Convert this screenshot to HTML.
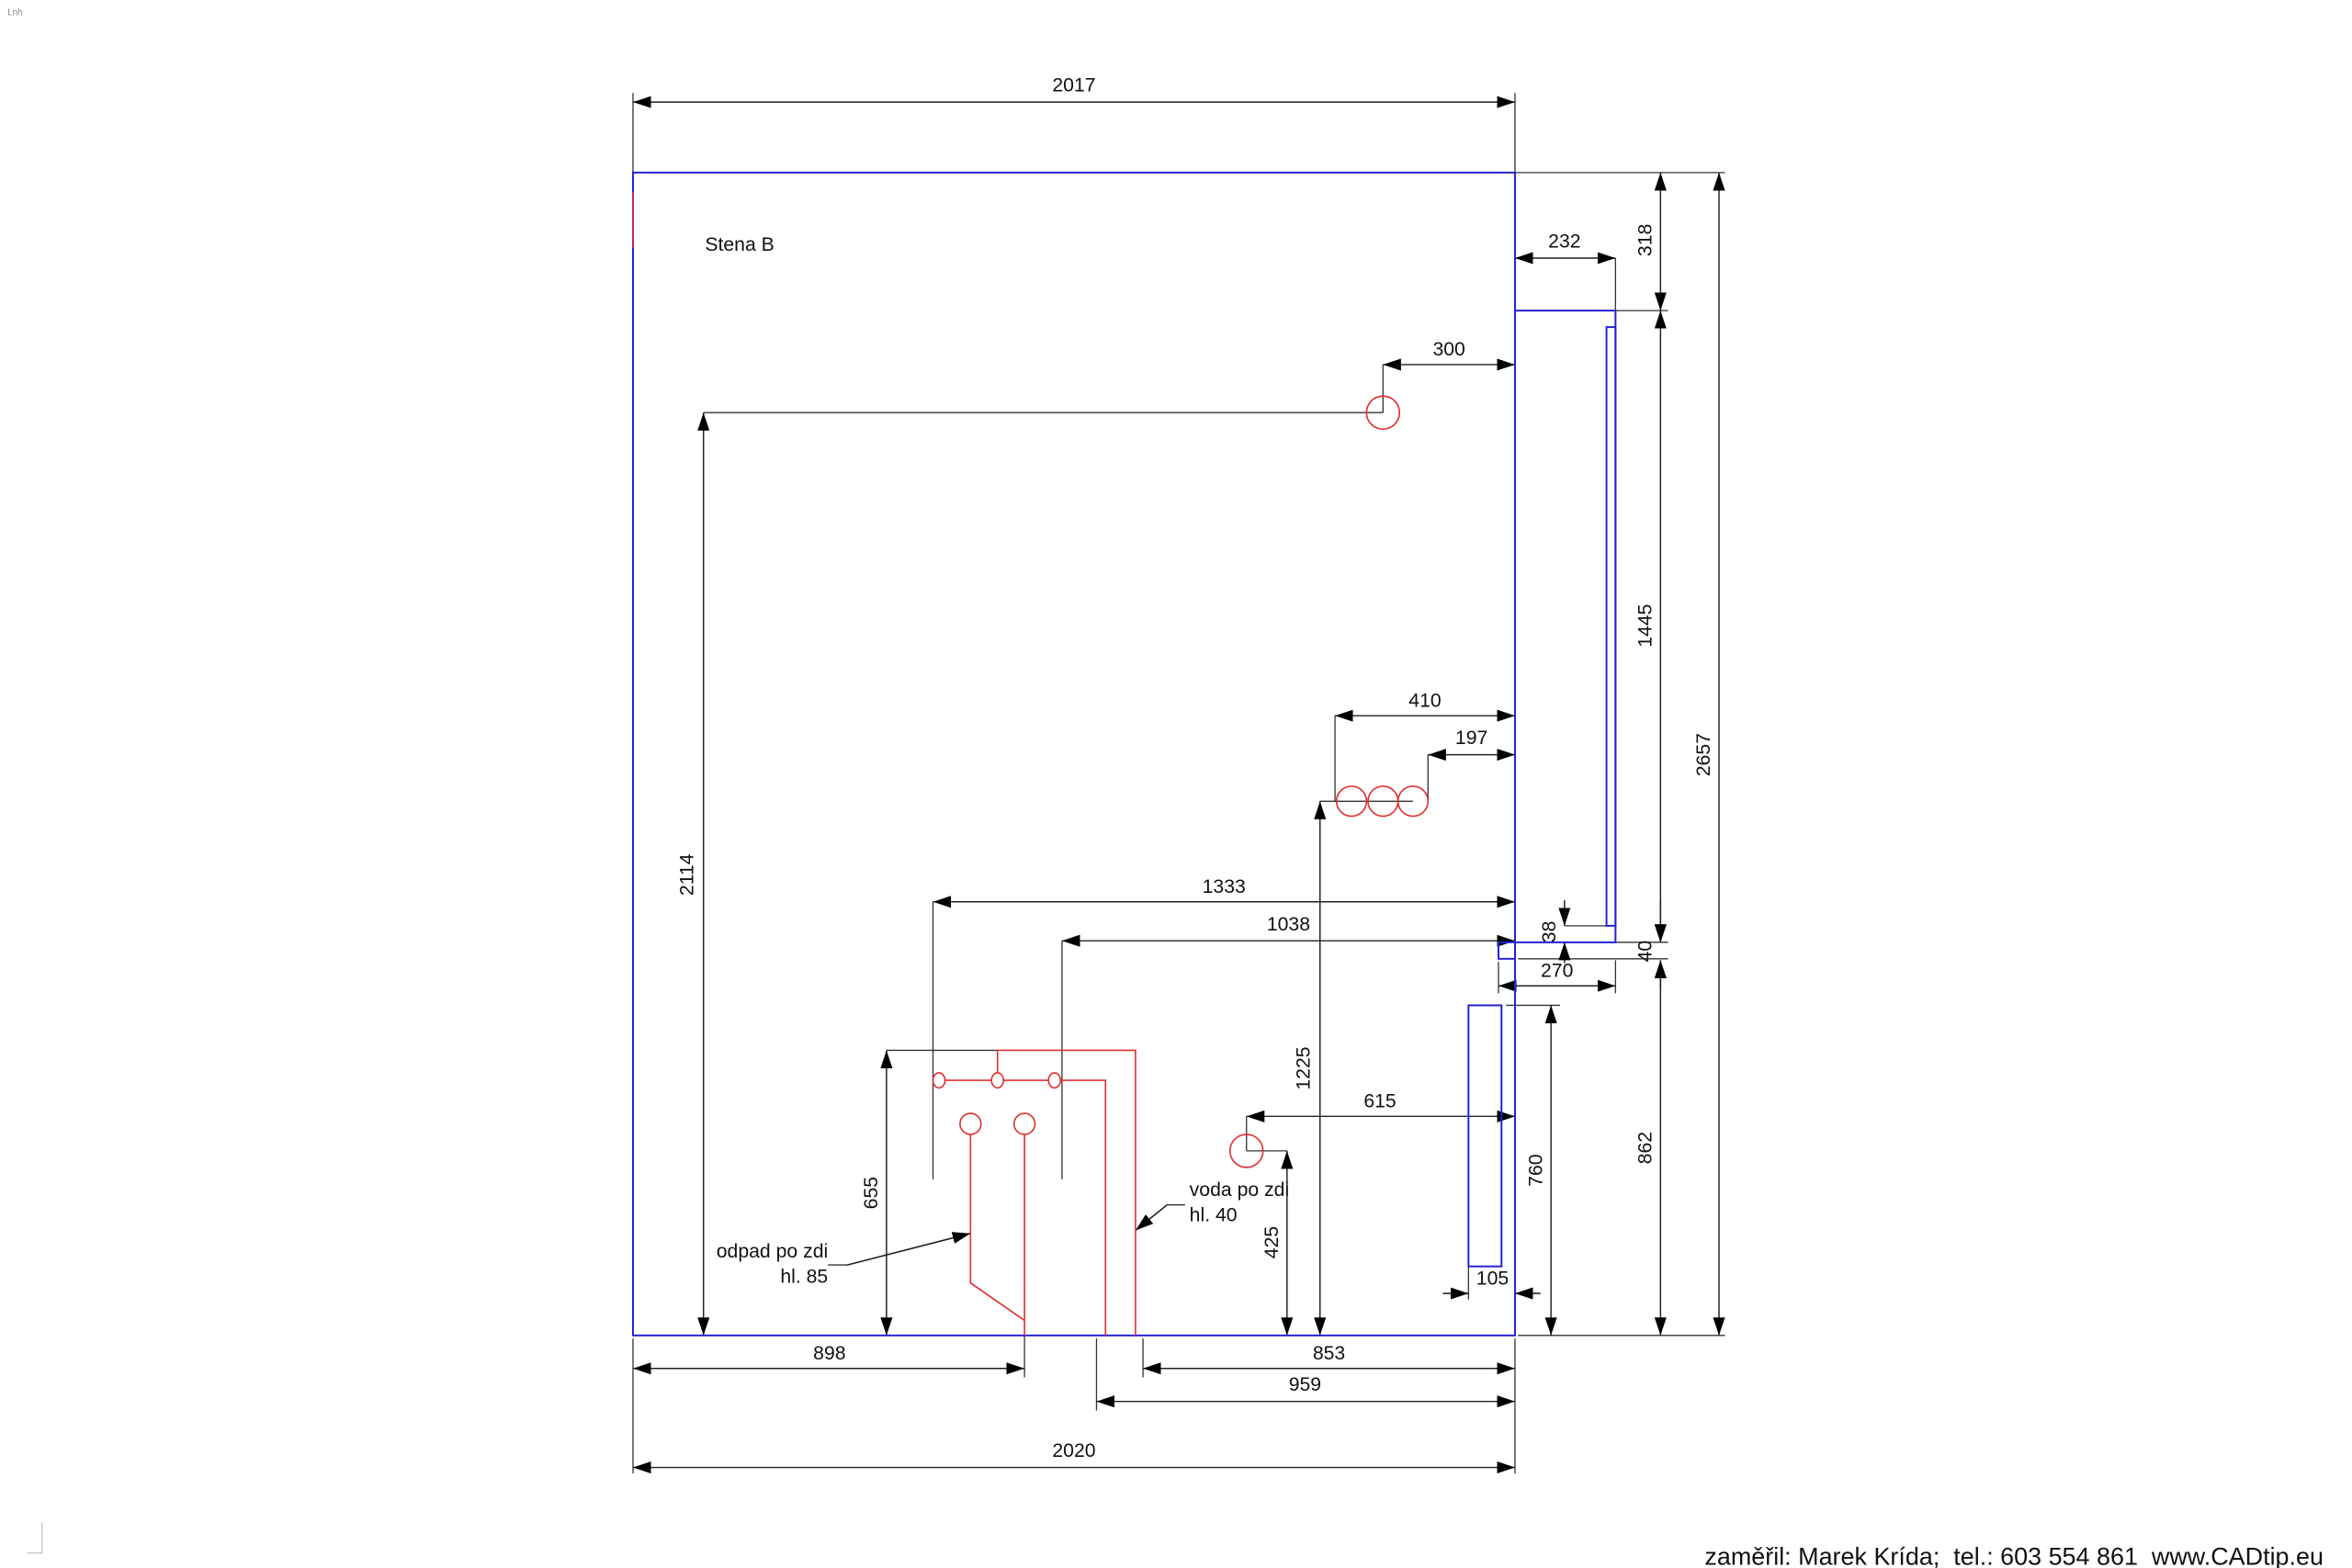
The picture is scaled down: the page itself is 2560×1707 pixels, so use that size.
<!DOCTYPE html>
<html><head><meta charset="utf-8"><style>
html,body{margin:0;padding:0;background:#fff}
svg{display:block}
text{font-family:"Liberation Sans",sans-serif;font-size:13px;fill:#111}
</style></head><body>
<svg width="2560" height="1707" viewBox="0 0 1568 1045" preserveAspectRatio="none" xmlns="http://www.w3.org/2000/svg">
<defs>
<marker id="a" viewBox="0 0 12 8" refX="12" refY="4" markerWidth="12" markerHeight="8" orient="auto-start-reverse" markerUnits="userSpaceOnUse"><path d="M0,0L12,4L0,8z" fill="#000"/></marker>
</defs>
<text x="5" y="10" style="font-size:6px;fill:#888">Lnh</text>
<g stroke="#333" stroke-width="0.8" fill="none">
<path d="M422 62V115M1010 62V115M1010 115H1150M1010 207H1112M1077 172V207M922 243V275M890 477V534M952 503V534M622 601V786M708 627V786M1010 628H1112M1012 639H1112M999 641V662M1077 640V662M1004 670H1040M979 844V866M962 862H979M1010 862H1027M1012 890H1150M1043 617H1071M591 700H665M831 744V767M831 767H858M469 275H922M880 534H942M683 890V918M762 892V918M731 892V940M422 892V982M1010 892V982M552 843H565L647 822M790 803H778L757 820"/>
</g>
<g stroke="#222" stroke-width="0.9" fill="none" marker-start="url(#a)" marker-end="url(#a)">
<path d="M422 68H1010"/>
<path d="M1107 115V207"/>
<path d="M1107 207V628"/>
<path d="M1107 640V890"/>
<path d="M1146 115V890"/>
<path d="M1010 172H1077"/>
<path d="M922 243H1010"/>
<path d="M890 477H1010"/>
<path d="M952 503H1010"/>
<path d="M622 601H1010"/>
<path d="M708 627H1010"/>
<path d="M999 657H1077"/>
<path d="M1034 670V890"/>
<path d="M469 275V890"/>
<path d="M880 534V890"/>
<path d="M591 700V890"/>
<path d="M831 744H1010"/>
<path d="M858 767V890"/>
<path d="M422 912H683"/>
<path d="M762 912H1010"/>
<path d="M731 934H1010"/>
<path d="M422 978H1010"/>
</g>
<g stroke="#222" stroke-width="0.9" fill="none">
<path d="M1107 600V628" marker-end="url(#a)"/>
<path d="M1107 660V640" marker-end="url(#a)"/>
<path d="M1043 600V617" marker-end="url(#a)"/>
<path d="M1043 642V628" marker-end="url(#a)"/>
<path d="M962 862H979" marker-end="url(#a)"/>
<path d="M1027 862H1010" marker-end="url(#a)"/>
<path d="M565 843L647 822" marker-end="url(#a)"/>
<path d="M778 803L757 820" marker-end="url(#a)"/>
</g>
<g stroke="#2020d0" stroke-width="1.2" fill="none">
<rect x="422" y="115" width="588" height="775"/>
<path d="M1010 207H1077V628H1010"/>
<rect x="1071" y="218" width="6" height="399"/>
<rect x="999" y="628" width="11" height="11"/>
<rect x="979" y="670" width="22" height="174"/>
</g>
<g stroke="#e03030" stroke-width="1" fill="none">
<path d="M422 128V165"/>
<circle cx="922" cy="275" r="11"/>
<circle cx="901" cy="534" r="10"/><circle cx="922" cy="534" r="10"/><circle cx="942" cy="534" r="10"/>
<circle cx="831" cy="767" r="11"/>
<path d="M665 700H757V890M665 700V715M630 720H661M669 720H699M707 720H737V890"/>
<ellipse cx="626" cy="720" rx="4" ry="5"/><ellipse cx="665" cy="720" rx="4" ry="5"/><ellipse cx="703" cy="720" rx="4" ry="5"/>
<circle cx="647" cy="749" r="7"/><circle cx="683" cy="749" r="7"/>
<path d="M647 756V855L683 880M683 756V890"/>
</g>
<text x="470" y="167">Stena B</text>
<g text-anchor="middle">
<text x="716" y="61">2017</text>
<text x="1043" y="165">232</text>
<text x="966" y="237">300</text>
<text x="950" y="471">410</text>
<text x="981" y="496">197</text>
<text x="816" y="595">1333</text>
<text x="859" y="620">1038</text>
<text x="1038" y="651">270</text>
<text x="920" y="738">615</text>
<text x="995" y="856">105</text>
<text x="553" y="906">898</text>
<text x="886" y="906">853</text>
<text x="870" y="927">959</text>
<text x="716" y="971">2020</text>
<text transform="translate(1101,160) rotate(-90)">318</text>
<text transform="translate(1101,417) rotate(-90)">1445</text>
<text transform="translate(1101,634) rotate(-90)">40</text>
<text transform="translate(1101,765) rotate(-90)">862</text>
<text transform="translate(1140,503) rotate(-90)">2657</text>
<text transform="translate(1037,621) rotate(-90)">38</text>
<text transform="translate(1028,780) rotate(-90)">760</text>
<text transform="translate(462,583) rotate(-90)">2114</text>
<text transform="translate(873,712) rotate(-90)">1225</text>
<text transform="translate(585,795) rotate(-90)">655</text>
<text transform="translate(852,828) rotate(-90)">425</text>
</g>
<text x="552" y="838" text-anchor="end">odpad po zdi</text>
<text x="552" y="855" text-anchor="end">hl. 85</text>
<text x="793" y="797">voda po zdi</text>
<text x="793" y="814">hl. 40</text>
<text x="1549" y="1043" text-anchor="end" style="font-size:16.5px;white-space:pre" xml:space="preserve">zaměřil: Marek Krída;  tel.: 603 554 861  www.CADtip.eu</text>
<path d="M18 1035H28V1015" stroke="#bbb" stroke-width="0.7" fill="none"/>
</svg>
</body></html>
